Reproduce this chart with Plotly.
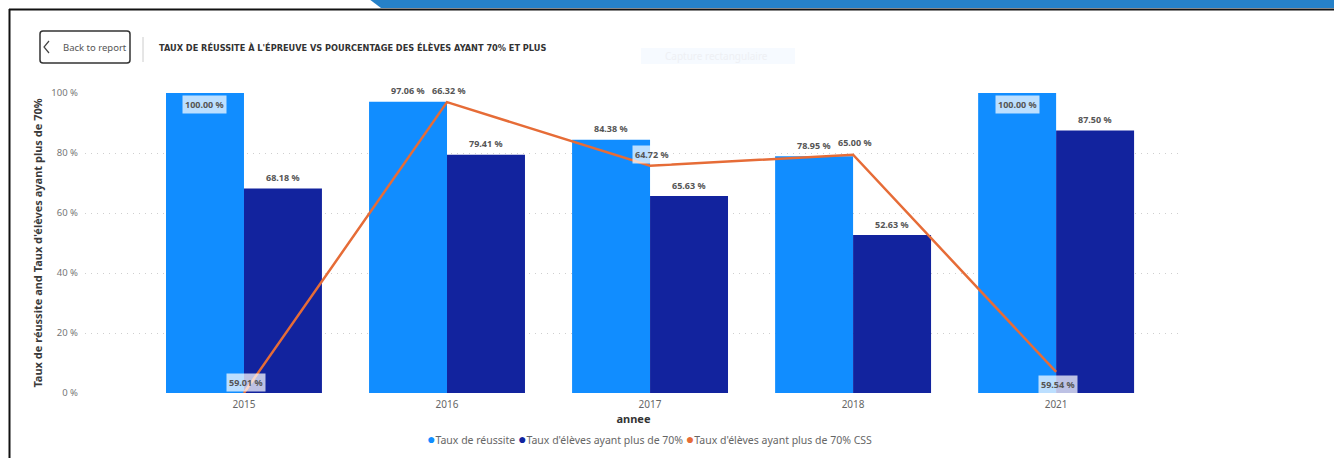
import plotly.graph_objects as go

annees = ["2015", "2016", "2017", "2018", "2021"]
taux_reussite = [100.00, 97.06, 84.38, 78.95, 100.00]
taux_70 = [68.18, 79.41, 65.63, 52.63, 87.50]
taux_70_css = [59.01, 66.32, 64.72, 65.00, 59.54]

serie_noms = ["Taux de réussite", "Taux d'élèves ayant plus de 70%", "Taux d'élèves ayant plus de 70% CSS"]
y_ticks = [0, 20, 40, 60, 80, 100]
titre = "TAUX DE RÉUSSITE À L'ÉPREUVE VS POURCENTAGE DES ÉLÈVES AYANT 70% ET PLUS"
titre_y = "Taux de réussite and Taux d'élèves ayant plus de 70%"
titre_x = "annee"

C_LIGHT = "#118DFF"
C_DARK = "#12239E"
C_ORANGE = "#E66C37"
FONT = "Noto Sans"

W, H = 1334, 458
L, R, T, B = 85, 1182, 93, 393


def px(x):
    return (x - L) / (R - L)


def py(y):
    return (B - y) / (B - T)


fig = go.Figure()
fig.add_trace(go.Bar(x=annees, y=taux_reussite, name=serie_noms[0], marker_color=C_LIGHT,
                     marker_line_width=0, showlegend=False, hoverinfo="skip"))
fig.add_trace(go.Bar(x=annees, y=taux_70, name=serie_noms[1], marker_color=C_DARK,
                     marker_line_width=0, showlegend=False, hoverinfo="skip"))
fig.add_trace(go.Scatter(x=annees, y=taux_70_css, name=serie_noms[2], mode="lines",
                         line=dict(color=C_ORANGE, width=2.5), yaxis="y2",
                         showlegend=False, hoverinfo="skip", cliponaxis=False))

ann = []
LBL = dict(family=FONT, size=9, color="#555555", weight="bold")
BOX_BG = "rgba(255,255,255,0.72)"

# bar labels (x given as category index)
for i, a in enumerate(annees):
    for vals, xs in ((taux_reussite, -39), (taux_70, 39)):
        v = vals[i]
        d = dict(x=i, y=v, xref="x", yref="y", text=f"{v:.2f} %", showarrow=False,
                 xshift=xs, font=LBL)
        if v >= 99.5:
            d.update(yshift=-11, bgcolor=BOX_BG, borderpad=2)
        else:
            d.update(yshift=11)
        ann.append(d)

# line labels (placement style)
line_lbl_box = [True, False, True, False, True]
line_lbl_shift = [11, 12, 11, 12, -13]
for i, a in enumerate(annees):
    v = taux_70_css[i]
    d = dict(x=i, y=v, xref="x", yref="y2", text=f"{v:.2f} %", showarrow=False,
             yshift=line_lbl_shift[i], xshift=2, font=LBL)
    if line_lbl_box[i]:
        d.update(bgcolor=BOX_BG, borderpad=2)
    ann.append(d)

# legend as text with circle glyphs
leg_cols = [C_LIGHT, C_DARK, C_ORANGE]
leg_txt = " ".join(f"<span style='color:{c};font-size:14px'>●</span>{n}" for c, n in zip(leg_cols, serie_noms))
ann.append(dict(x=px(649), y=py(438), xref="paper", yref="paper", text=leg_txt, showarrow=False,
                xanchor="center", yanchor="middle",
                font=dict(family=FONT, size=10.5, color="#666666")))

# header texts
ann.append(dict(x=px(157), y=py(47), xref="paper", yref="paper", text=titre, showarrow=False,
                xanchor="left", yanchor="middle",
                font=dict(family="DejaVu Sans", size=8.2, color="#333333", weight="bold")))
ann.append(dict(x=px(61), y=py(47.5), xref="paper", yref="paper", text="Back to report", showarrow=False,
                xanchor="left", yanchor="middle",
                font=dict(family=FONT, size=9.5, color="#555555")))
ann.append(dict(x=px(663), y=py(56), xref="paper", yref="paper", text="Capture rectangulaire", showarrow=False,
                xanchor="left", yanchor="middle",
                font=dict(family=FONT, size=10, color="#eef0f4")))

shapes = []
shapes.append(dict(type="path", xref="paper", yref="paper",
                   path=f"M {px(369)} {py(-1)} L {px(W)} {py(-1)} L {px(W)} {py(8)} L {px(381)} {py(8)} Z",
                   fillcolor="#2681C8", line=dict(width=0), layer="above"))
shapes.append(dict(type="line", xref="paper", yref="paper", x0=px(9), x1=px(W), y0=py(9.5), y1=py(9.5),
                   line=dict(color="#111111", width=2)))
shapes.append(dict(type="line", xref="paper", yref="paper", x0=px(9.5), x1=px(9.5), y0=py(9), y1=py(H),
                   line=dict(color="#111111", width=2)))
shapes.append(dict(type="path", xref="paper", yref="paper",
                   path=(f"M {px(43)} {py(31)} L {px(127)} {py(31)} Q {px(130)} {py(31)} {px(130)} {py(34)} "
                         f"L {px(130)} {py(60)} Q {px(130)} {py(63)} {px(127)} {py(63)} L {px(43)} {py(63)} "
                         f"Q {px(40)} {py(63)} {px(40)} {py(60)} L {px(40)} {py(34)} Q {px(40)} {py(31)} {px(43)} {py(31)} Z"),
                   fillcolor="white", line=dict(color="#333333", width=1.5)))
shapes.append(dict(type="path", xref="paper", yref="paper",
                   path=f"M {px(49)} {py(41)} L {px(44)} {py(47)} L {px(49)} {py(53)}",
                   line=dict(color="#444444", width=1.2)))
shapes.append(dict(type="line", xref="paper", yref="paper", x0=px(143), x1=px(143), y0=py(37), y1=py(62),
                   line=dict(color="#cccccc", width=1)))
shapes.append(dict(type="rect", xref="paper", yref="paper", x0=px(641), x1=px(795), y0=py(48), y1=py(64),
                   fillcolor="#f6faff", line=dict(width=0), layer="below"))

fig.update_layout(
    width=W, height=H,
    margin=dict(l=L, r=W - R, t=T, b=H - B, pad=0),
    paper_bgcolor="white", plot_bgcolor="white",
    barmode="group", bargap=0.232, bargroupgap=0,
    font=dict(family=FONT, color="#666666"),
    showlegend=False,
    xaxis=dict(type="category", range=[-0.783, 4.62], showgrid=False, zeroline=False,
               showline=False, ticks="", tickfont=dict(size=10, color="#666666"),
               ticklabelstandoff=4, automargin=False,
               title=dict(text=titre_x, font=dict(size=11, color="#333333", weight="bold"), standoff=2)),
    yaxis=dict(range=[0, 100], tickvals=y_ticks, ticktext=[f"{t} %" for t in y_ticks],
               showgrid=True, gridcolor="#cfcfcf", griddash="1px,5px", gridwidth=1,
               zeroline=False, showline=False, ticks="", ticklabelstandoff=6, automargin=False,
               tickfont=dict(size=9.5, color="#777777"),
               title=dict(text=titre_y, font=dict(size=11, color="#3a3a3a", weight="bold"), standoff=6)),
    yaxis2=dict(range=[59.01, 66.55], overlaying="y", visible=False),
    annotations=ann,
    shapes=shapes,
)

fig.write_html("out.html", config={"displayModeBar": False},
               post_script="document.body.style.margin='0';")
